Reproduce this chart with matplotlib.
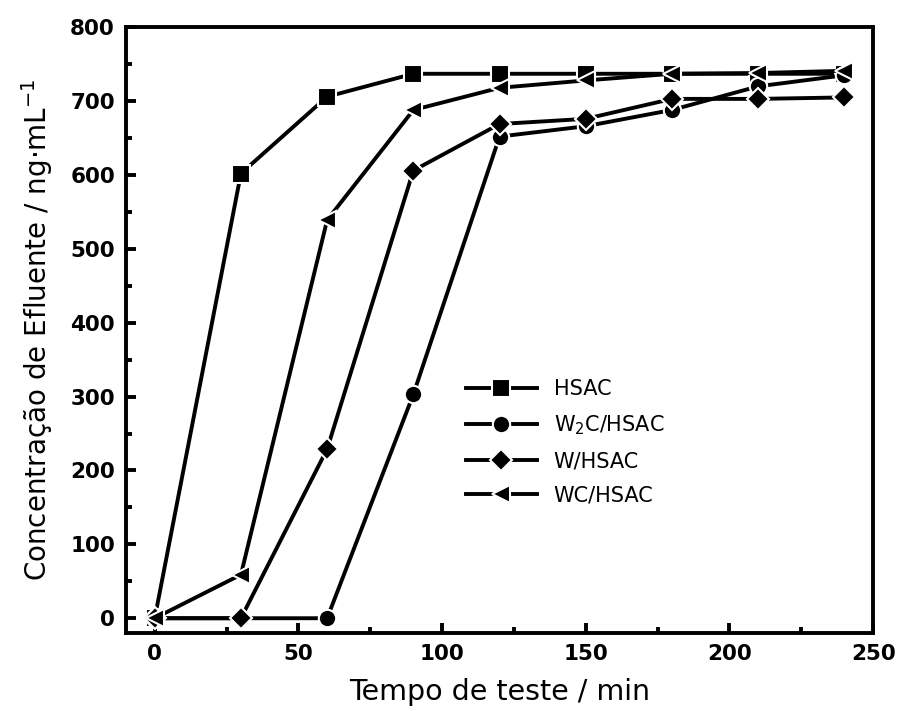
import numpy as np
import matplotlib
matplotlib.use("Agg")
import matplotlib.pyplot as plt
from matplotlib.ticker import MultipleLocator

# test time (min)
tempo = [0, 30, 60, 90, 120, 150, 180, 210, 240]

# effluent concentration (ng/mL) per sample
hsac = [0, 602, 706, 737, 737, 737, 737, 737, 737]
w2c_hsac = [0, 0, 0, 303, 652, 666, 688, 720, 735]
w_hsac = [0, 0, 229, 606, 669, 676, 703, 703, 705]
wc_hsac = [0, 59, 539, 688, 718, 728, 737, 738, 741]

series = [
    ("HSAC", hsac, "s"),
    ("W$_2$C/HSAC", w2c_hsac, "o"),
    ("W/HSAC", w_hsac, "D"),
    ("WC/HSAC", wc_hsac, "<"),
]

fig = plt.figure(figsize=(8.98, 7.11), dpi=100)
ax = fig.add_axes([0.1403, 0.1097, 0.832, 0.852])

for name, vals, mk in series:
    ms = 12.5 if mk != "D" else 11
    ax.plot(tempo, vals, color="black", lw=2.8, marker=mk, ms=ms,
            markerfacecolor="black", markeredgecolor="white", mew=1.5,
            label=name)

ax.set_xlim(-10, 250)
ax.set_ylim(-20, 800)
ax.xaxis.set_major_locator(MultipleLocator(50))
ax.xaxis.set_minor_locator(MultipleLocator(25))
ax.yaxis.set_major_locator(MultipleLocator(100))
ax.yaxis.set_minor_locator(MultipleLocator(50))

for s in ax.spines.values():
    s.set_linewidth(2.8)
ax.tick_params(which="major", direction="in", length=7, width=2.8,
               top=False, right=False, pad=8)
ax.tick_params(which="minor", direction="in", length=4, width=2.8,
               top=False, right=False)
for lab in ax.get_xticklabels() + ax.get_yticklabels():
    lab.set_fontweight("heavy")
    lab.set_fontsize(15.5)

ax.set_xlabel("Tempo de teste / min", fontsize=20.5, family="DejaVu Sans",
              labelpad=10)
ax.set_ylabel("Concentração de Efluente / ng·mL$^{\\mathregular{-1}}$",
              fontsize=20, family="DejaVu Sans", labelpad=11)

leg = ax.legend(loc="upper left", bbox_to_anchor=(0.43, 0.45), frameon=False,
                handlelength=3.4, handletextpad=0.8, labelspacing=0.68,
                prop={"family": "DejaVu Sans", "size": 15})

fig.savefig("out.png", dpi=100)
